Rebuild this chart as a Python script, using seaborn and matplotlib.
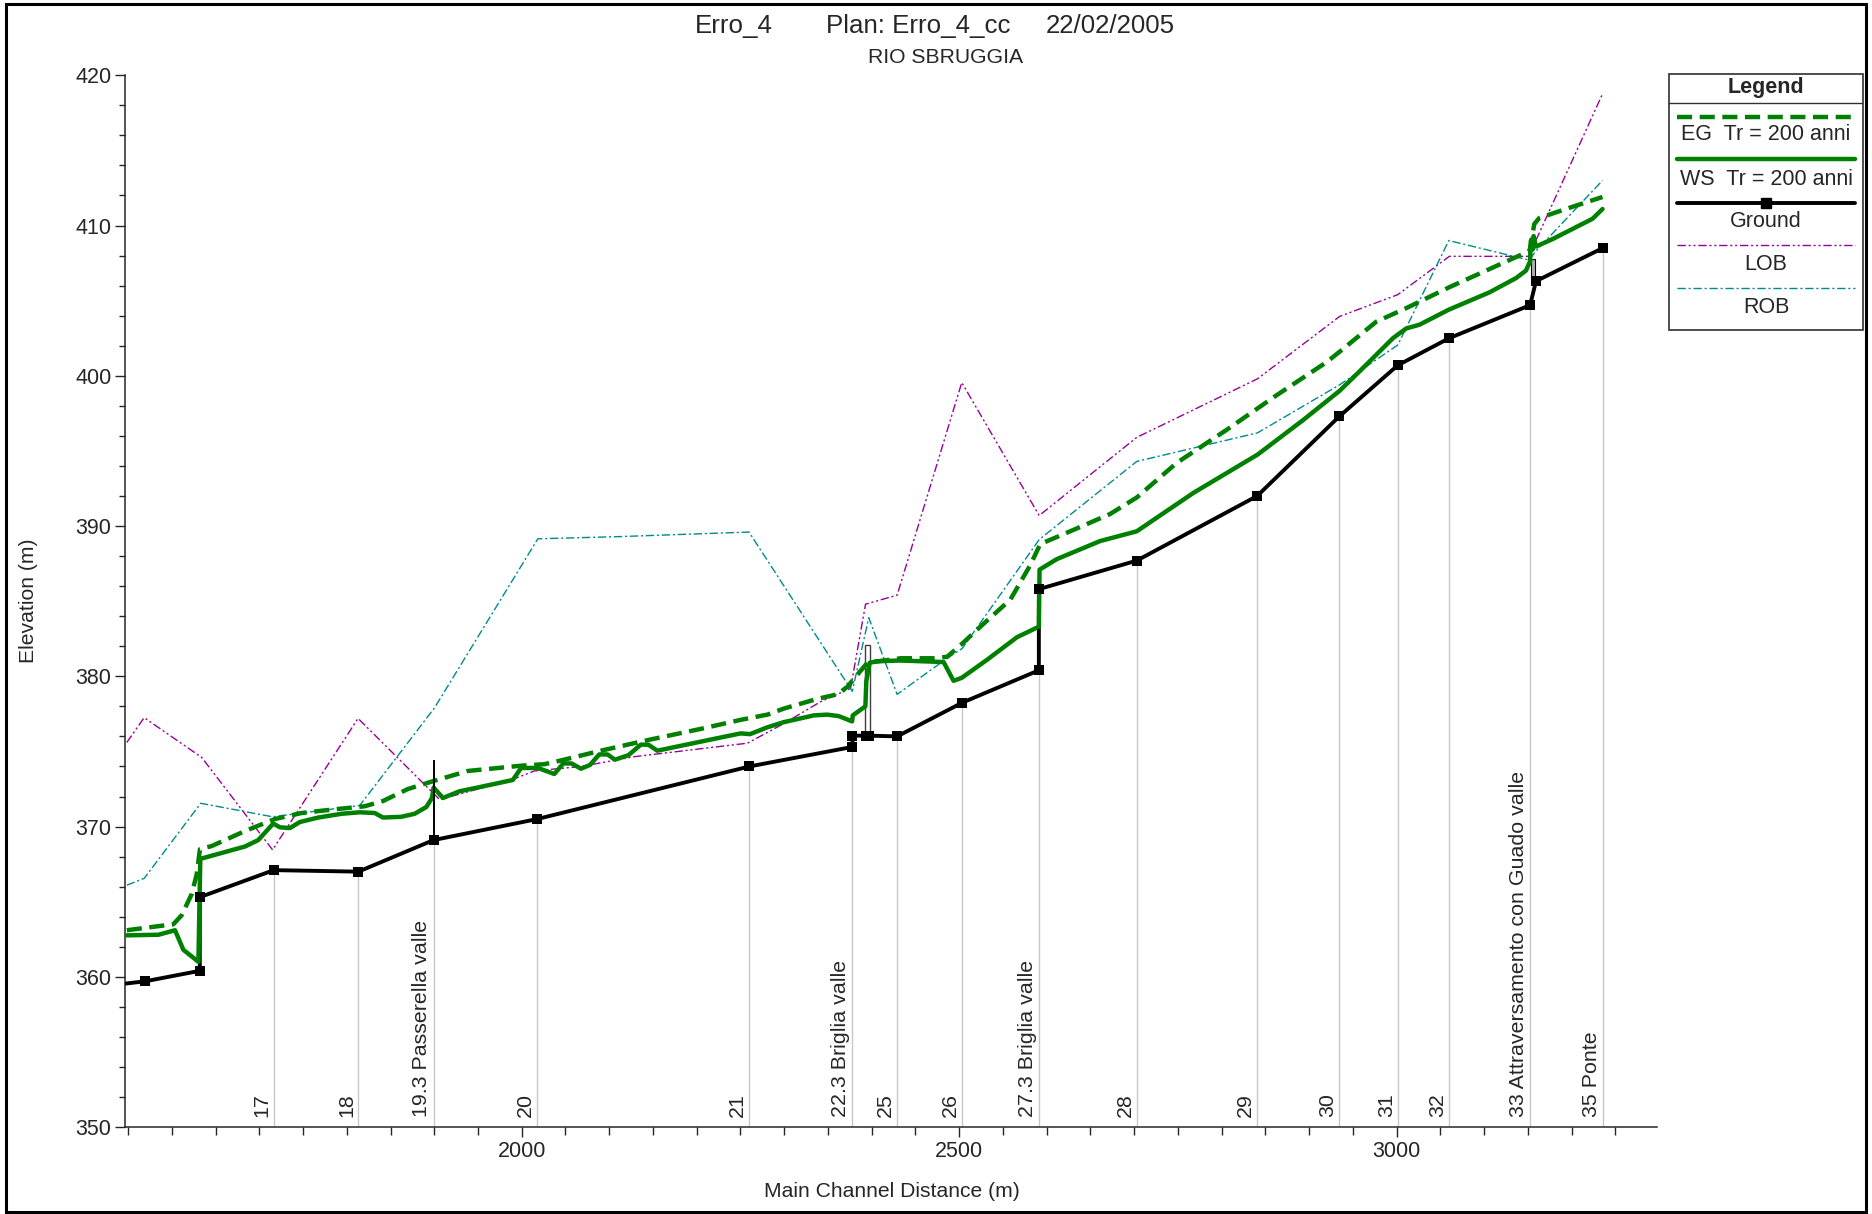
import pandas as pd
import matplotlib.pyplot as plt
import seaborn as sns
from matplotlib.patches import Rectangle
from matplotlib.ticker import MultipleLocator

sns.set_style('ticks')
plt.rcParams['font.family'] = ['Liberation Sans', 'DejaVu Sans']

# sezioni (distanza, quota fondo)
ground_x = [1547, 1569.5, 1632, 1632, 1716.6, 1813.3, 1899.2, 2017.7, 2260.2, 2378.0, 2378.0,
            2393.0, 2397.0, 2429.1, 2503.7, 2591.1, 2591.1, 2703.0, 2840.6, 2934.6, 3001.4,
            3060.0, 3152.6, 3159.4, 3235.7]
ground_y = [359.55, 359.7, 360.4, 365.3, 367.1, 367.0, 369.1, 370.5, 374.0, 375.3, 376.05,
            376.05, 376.05, 376.0, 378.25, 380.4, 385.8, 387.7, 392.0, 397.3, 400.7,
            402.5, 404.7, 406.3, 408.5]

ws_x = [1548.6, 1584.8, 1603.7, 1613.2, 1630.4, 1632.6, 1683.6, 1698.8, 1716.0, 1723.6, 1735.0,
        1746.3, 1767.3, 1794.0, 1815.0, 1832.0, 1841.5, 1862.4, 1877.6, 1890.9, 1897.4, 1899.3,
        1909.9, 1928.9, 1949.8, 1989.8, 1999.3, 2018.3, 2037.3, 2047.5, 2057.0, 2067.7, 2078.0,
        2088.6, 2098.1, 2106.5, 2122.0, 2136.1, 2144.7, 2155.0, 2204.5, 2250.2, 2261.0, 2280.5,
        2299.6, 2334.0, 2349.1, 2362.4, 2377.6, 2378.4, 2392.8, 2393.9, 2397.7, 2406.1, 2432.7,
        2482.2, 2493.6, 2503.0, 2531.9, 2566.1, 2591.1, 2591.9, 2611.7, 2661.1, 2703.0, 2767.6,
        2841.0, 2893.1, 2934.9, 2957.8, 2995.8, 3011.0, 3026.2, 3059.7, 3106.1, 3136.5, 3147.9,
        3152.5, 3153.6, 3155.5, 3156.7, 3159.3, 3178.4, 3224.0, 3235.4]
ws_y = [362.76, 362.8, 363.1, 361.8, 361.0, 367.85, 368.67, 369.1, 370.2, 369.95, 369.9,
        370.3, 370.6, 370.85, 370.95, 370.9, 370.6, 370.65, 370.85, 371.3, 371.9, 372.6,
        371.9, 372.35, 372.6, 373.1, 373.9, 373.9, 373.5, 374.2, 374.2, 373.85, 374.1,
        374.8, 374.8, 374.45, 374.75, 375.45, 375.45, 375.05, 375.65, 376.2, 376.15, 376.6,
        376.95, 377.4, 377.45, 377.35, 377.0, 377.4, 378.0, 379.7, 380.9, 381.0, 381.05,
        380.95, 379.7, 379.9, 381.1, 382.6, 383.3, 387.1, 387.8, 389.0, 389.65, 392.2,
        394.75, 397.05, 399.0, 400.3, 402.5, 403.15, 403.4, 404.4, 405.55, 406.5, 407.0,
        407.6, 409.0, 408.4, 409.3, 408.6, 409.1, 410.45, 411.1]

eg_x = [1548.6, 1601.8, 1611.3, 1622.7, 1628.4, 1632.2, 1645.5, 1683.6, 1717.8, 1748.2, 1786.2,
        1820.5, 1841.4, 1869.9, 1900.3, 1938.4, 1999.2, 2025.9, 2044.8, 2090.5, 2147.7, 2204.6,
        2250.1, 2280.9, 2299.5, 2338.0, 2360.8, 2372.2, 2383.6, 2395.0, 2433.0, 2471.1, 2486.3,
        2504.0, 2524.2, 2558.5, 2581.3, 2592.7, 2626.9, 2672.5, 2703.0, 2748.6, 2805.7, 2862.7,
        2919.8, 2934.9, 2976.8, 3011.0, 3060.5, 3106.1, 3147.9, 3152.0, 3157.4, 3163.1, 3201.2,
        3235.4]
eg_y = [363.1, 363.5, 364.1, 365.5, 366.8, 368.5, 368.7, 369.7, 370.5, 370.9, 371.15,
        371.35, 371.7, 372.5, 373.05, 373.7, 374.05, 374.15, 374.4, 375.05, 375.8, 376.5,
        377.1, 377.45, 377.85, 378.5, 378.8, 379.3, 380.1, 380.9, 381.2, 381.2, 381.3,
        382.2, 383.3, 385.1, 387.4, 388.8, 389.65, 390.8, 391.9, 394.2, 396.4, 398.7,
        400.9, 401.6, 403.6, 404.5, 405.9, 407.1, 408.2, 408.3, 410.1, 410.5, 411.25,
        411.9]

lob_x = [1548.6, 1568.4, 1634.2, 1715.2, 1812.9, 1906.1, 1987.9, 2014.5, 2067.7, 2128.6, 2258.0,
         2297.9, 2341.3, 2375.9, 2393.0, 2429.1, 2503.0, 2591.5, 2703.0, 2841.0, 2934.9, 3001.4,
         3060.3, 3151.6, 3159.2, 3235.7]
lob_y = [375.6, 377.25, 374.6, 368.45, 377.2, 371.8, 373.1, 373.7, 374.0, 374.65, 375.55,
         376.8, 378.3, 379.2, 384.8, 385.4, 399.55, 390.7, 395.9, 399.8, 403.95, 405.4,
         407.95, 407.95, 409.0, 418.8]

rob_x = [1548.6, 1568.4, 1633.1, 1715.2, 1814.8, 1900.3, 2018.4, 2113.4, 2259.8, 2377.8, 2396.7,
         2429.1, 2486.2, 2503.5, 2591.5, 2703.0, 2841.0, 2934.9, 3001.4, 3059.7, 3151.5, 3159.3,
         3235.4]
rob_y = [366.1, 366.55, 371.55, 370.65, 371.4, 377.9, 389.15, 389.3, 389.6, 379.0, 383.9,
         378.8, 381.2, 381.85, 389.1, 394.3, 396.2, 399.4, 402.05, 409.0, 407.7, 408.3,
         413.0]

# sezioni con etichetta
sec_x = [1716.6, 1813.3, 1899.2, 2017.7, 2260.2, 2378.0, 2429.1, 2503.7, 2591.1, 2703.0,
         2840.6, 2934.6, 3001.4, 3060.0, 3152.6, 3235.7]
sec_z = [367.1, 367.0, 369.1, 370.5, 374.0, 375.3, 376.0, 378.25, 380.4, 387.7,
         392.0, 397.3, 400.7, 402.5, 404.7, 408.5]
sec_lab = ['17', '18', '19.3 Passerella valle', '20', '21', '22.3 Briglia valle', '25', '26',
           '27.3 Briglia valle', '28', '29', '30', '31', '32',
           '33 Attraversamento con Guado valle', '35 Ponte']

# strutture
pass_x, pass_bot, pass_top = 1899.2, 369.1, 374.4
brig_x0, brig_x1, brig_bot, brig_top = 2392.2, 2397.9, 376.05, 382.1
att_x0, att_x1, att_bot, att_top = 3153.5, 3158.4, 406.4, 407.8

green = '#008000'
purple = '#990099'
teal = '#008b8b'

fig = plt.figure(figsize=(18.72, 12.14), dpi=100)
ax = fig.add_axes([0.067, 0.0716, 0.8183, 0.8664])

ax.vlines(sec_x, 350, sec_z, color='#c8c8c8', lw=1.0, zorder=1)

sns.lineplot(x=lob_x, y=lob_y, ax=ax, color=purple, lw=1.0, sort=False, estimator=None,
             linestyle=(0, (6, 2, 1.5, 2, 1.5, 2)), zorder=2)
sns.lineplot(x=rob_x, y=rob_y, ax=ax, color=teal, lw=1.0, sort=False, estimator=None,
             linestyle=(0, (6, 2, 1.5, 2)), zorder=2)
sns.lineplot(x=ground_x, y=ground_y, ax=ax, color='black', lw=2.8, sort=False, estimator=None,
             zorder=3)
sns.lineplot(x=eg_x, y=eg_y, ax=ax, color=green, lw=3.2, sort=False, estimator=None,
             linestyle=(0, (3.4, 1.7)), zorder=4)
sns.lineplot(x=ws_x, y=ws_y, ax=ax, color=green, lw=3.2, sort=False, estimator=None, zorder=4)
sns.scatterplot(x=ground_x[1:], y=ground_y[1:], ax=ax, marker='s', s=58, color='black',
                linewidth=0, zorder=5)

ax.vlines([pass_x], pass_bot, pass_top, color='black', lw=1.4, zorder=5)
ax.add_patch(Rectangle((brig_x0, brig_bot), brig_x1 - brig_x0, brig_top - brig_bot,
                       facecolor='white', edgecolor='#404040', lw=1.0, zorder=3))
ax.add_patch(Rectangle((att_x0, att_bot), att_x1 - att_x0, att_top - att_bot,
                       facecolor='#b0b0b0', edgecolor='black', lw=0.8, zorder=3))

for x, lab in zip(sec_x, sec_lab):
    ax.annotate(lab, (x, 350), xytext=(-1.5, 7), textcoords='offset points', rotation=90,
                ha='right', va='bottom', fontsize=15.4)

ax.set_xlim(1547, 3298)
ax.set_ylim(350, 420)
ax.xaxis.set_major_locator(MultipleLocator(500))
ax.xaxis.set_minor_locator(MultipleLocator(50))
ax.yaxis.set_major_locator(MultipleLocator(10))
ax.yaxis.set_minor_locator(MultipleLocator(2))
ax.tick_params(which='major', length=7, width=1.0, labelsize=15.5, pad=3)
ax.tick_params(which='minor', length=6, width=1.0)
ax.tick_params(axis='y', which='minor', length=4)
for s in ['top', 'right']:
    ax.spines[s].set_visible(False)
for s in ['left', 'bottom']:
    ax.spines[s].set_linewidth(1.1)
ax.set_xlabel('')
ax.set_ylabel('')

fig.text(0.4765, 0.0184, 'Main Channel Distance (m)', ha='center', va='center', fontsize=15.2)
fig.text(0.0153, 0.505, 'Elevation (m)', ha='center', va='center', rotation=90, fontsize=15.2)

fig.text(0.3713, 0.9786, 'Erro_4', ha='left', va='center', fontsize=18.6)
fig.text(0.4414, 0.9786, 'Plan: Erro_4_cc', ha='left', va='center', fontsize=18.6)
fig.text(0.5588, 0.9786, '22/02/2005', ha='left', va='center', fontsize=18.6)
fig.text(0.505, 0.9528, 'RIO SBRUGGIA', ha='center', va='center', fontsize=15.2)

# legenda
lg = fig.add_axes([0.8916, 0.7282, 0.1036, 0.2109])
lg.set_xlim(0, 1)
lg.set_ylim(0, 1)
lg.axis('off')
lg.add_patch(Rectangle((0, 0), 1, 1, facecolor='white', edgecolor='#303030', lw=1.2,
                       transform=lg.transAxes, clip_on=False))
lg.text(0.5, 0.9486, 'Legend', ha='center', va='center', fontsize=15.5, fontweight='bold')
lg.plot([0, 1], [0.888, 0.888], color='#303030', lw=1.0)
lg.plot([0.043, 0.957], [0.832, 0.832], color=green, lw=3.2, linestyle=(0, (3.4, 1.7)))
lg.text(0.5, 0.762, 'EG  Tr = 200 anni', ha='center', va='center', fontsize=15.5)
lg.plot([0.043, 0.957], [0.668, 0.668], color=green, lw=3.2)
lg.text(0.5, 0.589, 'WS  Tr = 200 anni', ha='center', va='center', fontsize=15.5)
lg.plot([0.043, 0.957], [0.495, 0.495], color='black', lw=2.8)
lg.plot([0.5], [0.495], marker='s', color='black', markersize=7.5)
lg.text(0.5, 0.425, 'Ground', ha='center', va='center', fontsize=15.5)
lg.plot([0.043, 0.957], [0.332, 0.332], color=purple, lw=1.0,
        linestyle=(0, (6, 2, 1.5, 2, 1.5, 2)))
lg.text(0.5, 0.257, 'LOB', ha='center', va='center', fontsize=15.5)
lg.plot([0.043, 0.957], [0.164, 0.164], color=teal, lw=1.0, linestyle=(0, (6, 2, 1.5, 2)))
lg.text(0.5, 0.089, 'ROB', ha='center', va='center', fontsize=15.5)

fig.add_artist(Rectangle((0.003, 0.002), 0.994, 0.995, transform=fig.transFigure,
                         fill=False, edgecolor='black', lw=2.2))

fig.savefig('out.png', dpi=100)
